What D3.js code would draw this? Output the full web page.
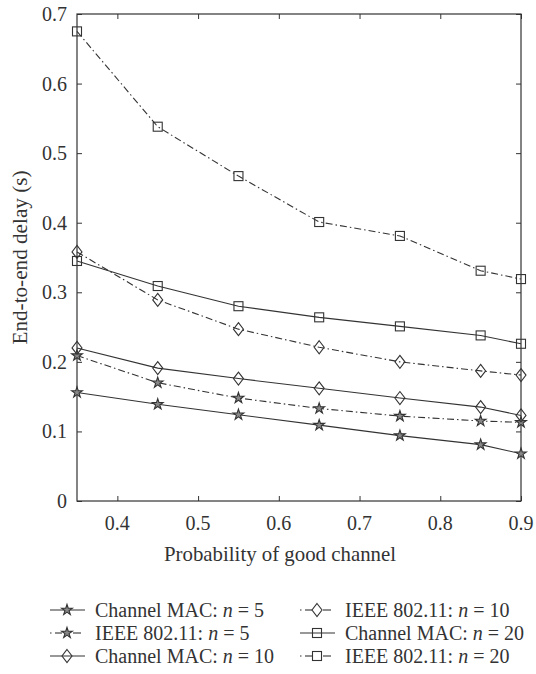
<!DOCTYPE html>
<html><head><meta charset="utf-8">
<script src="https://cdn.jsdelivr.net/npm/d3@7"></script>
</head>
<body style="margin:0;background:#fff"><svg id="c" width="536" height="674"></svg>
<script>
const xValues = [0.35, 0.45, 0.55, 0.65, 0.75, 0.85, 0.9];
const macN5   = [0.156, 0.139, 0.124, 0.109, 0.094, 0.081, 0.068];
const ieeeN5  = [0.209, 0.170, 0.148, 0.133, 0.122, 0.115, 0.113];
const macN10  = [0.220, 0.191, 0.176, 0.162, 0.148, 0.135, 0.123];
const ieeeN10 = [0.358, 0.289, 0.247, 0.221, 0.200, 0.187, 0.181];
const macN20  = [0.345, 0.309, 0.280, 0.264, 0.251, 0.238, 0.226];
const ieeeN20 = [0.675, 0.538, 0.467, 0.401, 0.381, 0.331, 0.319];
const xTicks = [0.4, 0.5, 0.6, 0.7, 0.8, 0.9];
const yTicks = [0, 0.1, 0.2, 0.3, 0.4, 0.5, 0.6, 0.7];
const seriesNames = ["Channel MAC: n = 5","IEEE 802.11: n = 5","Channel MAC: n = 10","IEEE 802.11: n = 10","Channel MAC: n = 20","IEEE 802.11: n = 20"];
const seriesValues = [macN5, ieeeN5, macN10, ieeeN10, macN20, ieeeN20];
const seriesMarkers = ["star","star","diamond","diamond","square","square"];
const seriesDashed = [false,true,false,true,false,true];

const ink = "#333";
const FONT = '"Liberation Serif", "Times New Roman", serif';
const svg = d3.select("#c");
const L = 77, R = 521, T = 14, B = 501;
const x = d3.scaleLinear().domain([0.35, 0.9]).range([L, R]);
const y = d3.scaleLinear().domain([0, 0.7]).range([B, T]);
const DASH = "7,3,1.5,3";
const fs = 20;

function label(sel, size){ return sel.style("font-family",FONT).attr("font-size",size||fs).attr("fill",ink); }

const gb = svg.append("g").attr("transform",`translate(0,${B})`)
  .call(d3.axisBottom(x).tickValues(xTicks).tickSize(-5).tickFormat(""));
const gt = svg.append("g").attr("transform",`translate(0,${T})`)
  .call(d3.axisTop(x).tickValues(xTicks).tickSize(-5).tickFormat(""));
const gl = svg.append("g").attr("transform",`translate(${L},0)`)
  .call(d3.axisLeft(y).tickValues(yTicks).tickSize(-5).tickFormat(""));
const gr = svg.append("g").attr("transform",`translate(${R},0)`)
  .call(d3.axisRight(y).tickValues(yTicks).tickSize(-5).tickFormat(""));
[gb,gt,gl,gr].forEach(g=>{
  g.select(".domain").remove();
  g.selectAll(".tick text").remove();
  g.selectAll(".tick line").attr("stroke",ink).attr("stroke-width",1);
});
xTicks.forEach(v=>{
  label(svg.append("text").attr("x",x(v)).attr("y",B+29).attr("text-anchor","middle")).text(d3.format(".1f")(v));
});
yTicks.forEach(v=>{
  label(svg.append("text").attr("x",L-10).attr("y",y(v)+7).attr("text-anchor","end")).text(v===0?"0":d3.format(".1f")(v));
});
svg.append("rect").attr("x",L).attr("y",T).attr("width",R-L).attr("height",B-T)
  .attr("fill","none").attr("stroke",ink).attr("stroke-width",1.2);

label(svg.append("text").attr("x",280).attr("y",561).attr("text-anchor","middle")
  .attr("textLength",232).attr("lengthAdjust","spacingAndGlyphs"), 21).text("Probability of good channel");
label(svg.append("text").attr("transform",`translate(27,${(T+B)/2}) rotate(-90)`).attr("text-anchor","middle")
  .attr("textLength",174).attr("lengthAdjust","spacingAndGlyphs"), 21).text("End-to-end delay (s)");

function marker(g, type, cx, cy){
  if(type==="square"){
    g.append("rect").attr("x",cx-4.5).attr("y",cy-4.5).attr("width",9).attr("height",9)
      .attr("fill","none").attr("stroke",ink).attr("stroke-width",1.1);
  } else if(type==="diamond"){
    g.append("path").attr("d",`M${cx},${cy-6.5}L${cx+5},${cy}L${cx},${cy+6.5}L${cx-5},${cy}Z`)
      .attr("fill","none").attr("stroke",ink).attr("stroke-width",1.1);
  } else {
    g.append("path").attr("d",d3.symbol().type(d3.symbolStar).size(36)())
      .attr("transform",`translate(${cx},${cy})`)
      .attr("fill","#888").attr("stroke",ink).attr("stroke-width",1.1);
  }
}

const line = d3.line().x((d,i)=>x(xValues[i])).y(d=>y(d));
seriesValues.forEach((vals,k)=>{
  const g = svg.append("g");
  g.append("path").attr("d",line(vals)).attr("fill","none").attr("stroke",ink).attr("stroke-width",1.1)
    .attr("stroke-dasharray", seriesDashed[k]?DASH:null);
  vals.forEach((v,i)=>marker(g, seriesMarkers[k], x(xValues[i]), y(v)));
});

const legRows = [610, 633, 656];
const legCols = [50, 300];
seriesNames.forEach((name,k)=>{
  const col = k<3?0:1, row = k%3;
  const lx = legCols[col], ly = legRows[row];
  const g = svg.append("g");
  if(seriesDashed[k]){
    g.append("line").attr("x1",lx).attr("x2",lx+1.5).attr("y1",ly).attr("y2",ly).attr("stroke",ink).attr("stroke-width",1.1);
    g.append("line").attr("x1",lx+5).attr("x2",lx+12).attr("y1",ly).attr("y2",ly).attr("stroke",ink).attr("stroke-width",1.1);
    g.append("line").attr("x1",lx+23).attr("x2",lx+31).attr("y1",ly).attr("y2",ly).attr("stroke",ink).attr("stroke-width",1.1);
  } else {
    g.append("line").attr("x1",lx).attr("x2",lx+35).attr("y1",ly).attr("y2",ly).attr("stroke",ink).attr("stroke-width",1.1);
  }
  marker(g, seriesMarkers[k], lx+17, ly);
  const parts = name.split("n = ");
  const t = label(g.append("text").attr("x",lx+45).attr("y",ly+7));
  t.append("tspan").text(parts[0]);
  t.append("tspan").attr("font-style","italic").text("n");
  t.append("tspan").text(" = " + parts[1]);
});
</script></body></html>
